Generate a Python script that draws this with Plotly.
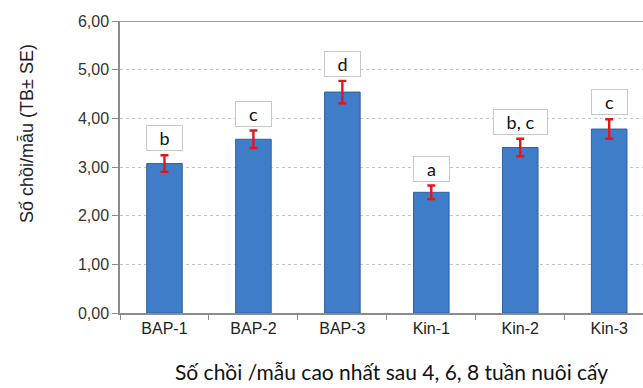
import plotly.graph_objects as go

categories = ["BAP-1", "BAP-2", "BAP-3", "Kin-1", "Kin-2", "Kin-3"]
means = [3.07, 3.57, 4.54, 2.48, 3.40, 3.78]
errors = [0.17, 0.18, 0.23, 0.14, 0.18, 0.20]
letters = ["b", "c", "d", "a", "b, c", "c"]
y_ticks = [0, 1, 2, 3, 4, 5, 6]
y_tick_labels = ["0,00", "1,00", "2,00", "3,00", "4,00", "5,00", "6,00"]

fig = go.Figure()
fig.add_trace(go.Bar(
    x=categories, y=means, width=0.4,
    marker=dict(color="#3F7DC8", line=dict(color="#2F62A3", width=1)),
    error_y=dict(type="data", array=errors, color="#E8141B", thickness=2.4, width=4),
))

for cat, m, e, lab in zip(categories, means, errors, letters):
    fig.add_annotation(
        x=cat, y=m + e + 0.08, xref="x", yref="y", text=lab, showarrow=False,
        yanchor="bottom", font=dict(family="Lato, Open Sans, sans-serif", size=18, color="#111"),
        bgcolor="white", bordercolor="#c8c8c8", borderwidth=1, borderpad=3,
        width=29 if len(lab) == 1 else 47, height=18,
    )

fig.add_shape(type="line", xref="paper", yref="y", x0=0, x1=1, y0=6, y1=6,
              line=dict(color="#7f7f7f", width=1.5))

fig.add_annotation(
    x=-0.18, y=0.616, xref="paper", yref="paper", text="Số chồi/mẫu (TB± SE)", showarrow=False,
    textangle=-90, xanchor="center", yanchor="middle",
    font=dict(family="Liberation Sans, Arial", size=18, color="#222"),
)
fig.add_annotation(
    x=0.52, y=-0.202, xref="paper", yref="paper",
    text="Số chồi /mẫu cao nhất sau 4, 6, 8 tuần nuôi cấy", showarrow=False,
    xanchor="center", yanchor="middle",
    font=dict(family="Lato, Open Sans, sans-serif", size=21, color="#111"),
)

fig.update_layout(
    width=643, height=388,
    margin=dict(l=120, r=0, t=21, b=75, autoexpand=False),
    paper_bgcolor="white", plot_bgcolor="white",
    showlegend=False,
    separators=",.",
    font=dict(family="Liberation Sans, Arial", size=16, color="#333"),
    xaxis=dict(
        range=[-0.5, 5.38], tickson="boundaries", ticks="outside", ticklen=5,
        tickcolor="#8c8c8c", showline=True, linecolor="#8c8c8c", linewidth=1.5,
        showgrid=False, tickfont=dict(size=16, color="#222"), automargin=False,
    ),
    yaxis=dict(
        range=[0, 6], tickvals=y_ticks, ticktext=y_tick_labels,
        ticks="outside", ticklen=6, tickcolor="#8c8c8c",
        showline=True, linecolor="#8c8c8c", linewidth=1.5,
        showgrid=True, gridcolor="#c4c4c4", griddash="dot", gridwidth=1,
        zeroline=False, tickfont=dict(size=16, color="#333"), automargin=False,
    ),
)
fig.write_html(
    "out.html",
    config={"displayModeBar": False},
    post_script="document.body.style.margin='0';document.body.style.overflow='hidden';",
)
